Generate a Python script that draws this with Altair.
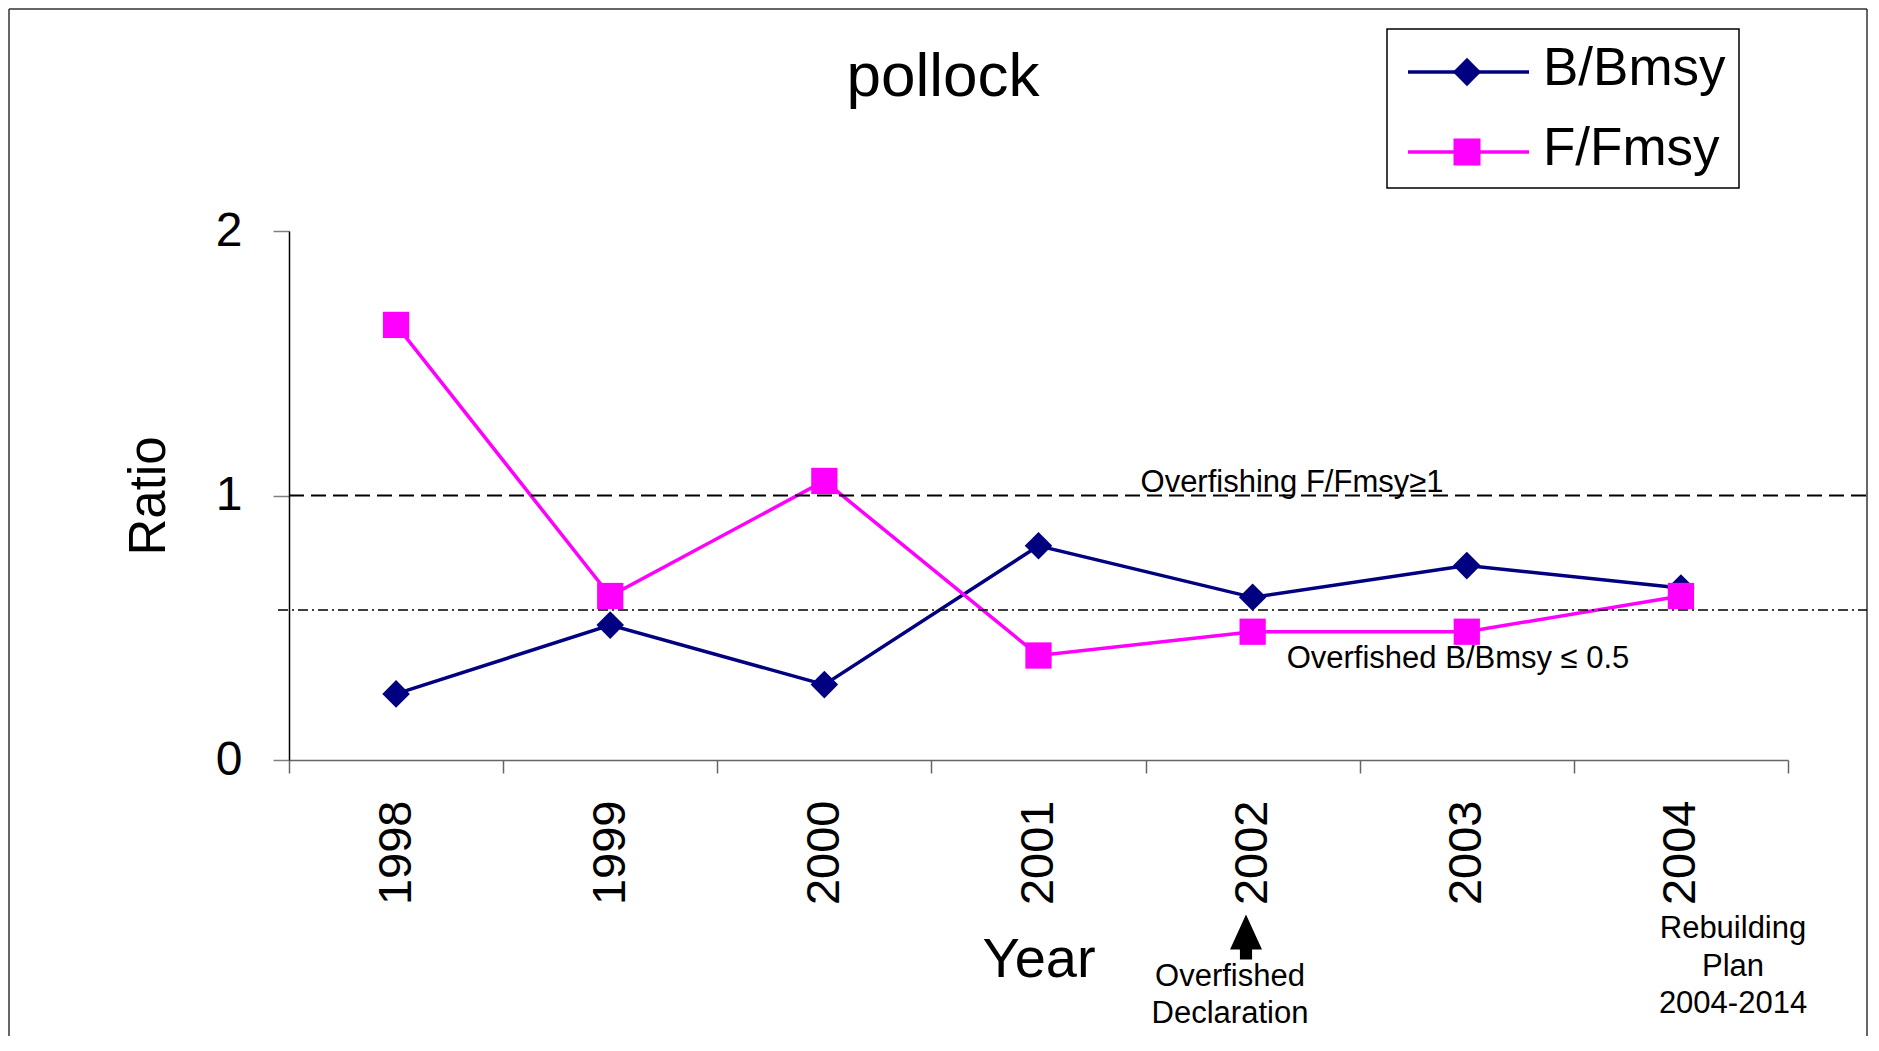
import altair as alt
import pandas as pd

# ---------------- data ----------------
years = ["1998", "1999", "2000", "2001", "2002", "2003", "2004"]
b_bmsy = [0.25, 0.51, 0.285, 0.81, 0.615, 0.735, 0.65]
f_fmsy = [1.645, 0.62, 1.055, 0.395, 0.485, 0.485, 0.62]
series_names = ["B/Bmsy", "F/Fmsy"]
series_colors = ["#000080", "#FF00FF"]
series_shapes = ["diamond", "square"]
series_sizes = [760, 690]
threshold_values = [1.0, 0.567]
threshold_labels = ["Overfishing F/Fmsy\u22651", "Overfished B/Bmsy \u2264 0.5"]
y_tick_values = [0.0, 1.0, 2.0]
chart_title = "pollock"
note_declaration = "Overfished\nDeclaration"
note_rebuilding = "Rebuilding\nPlan\n2004-2014"

FONT = "Liberation Sans"
W, H = 1499, 529

data = pd.DataFrame({
    "Year": years * 2,
    "Ratio": b_bmsy + f_fmsy,
    "Series": [series_names[0]] * len(years) + [series_names[1]] * len(years),
})
ref_df = pd.DataFrame({"Ratio": threshold_values, "Label": threshold_labels})
one = pd.DataFrame({"k": [0]})

x_enc = alt.X(
    "Year:N",
    scale=alt.Scale(type="band", domain=years, paddingInner=0, paddingOuter=0),
    axis=alt.Axis(
        title="Year", labelAngle=-90, tickBand="extent", grid=False,
        labelFont=FONT, labelFontSize=47, labelColor="black", labelPadding=27,
        labelAlign="right", labelBaseline="middle", labelOverlap=False,
        tickSize=13, tickColor="#666666", tickWidth=1.5,
        domainColor="#666666", domainWidth=1.5,
        titleFont=FONT, titleFontSize=56, titleFontWeight="normal",
        titleColor="black", titlePadding=28,
    ),
)
y_enc = alt.Y(
    "Ratio:Q",
    scale=alt.Scale(domain=[0, 2], nice=False),
    axis=alt.Axis(
        values=y_tick_values, grid=False, labelOverlap=False, labelFlush=False,
        labelExpr="format(datum.value, 'd')",
        labelFont=FONT, labelFontSize=48, labelColor="black", labelPadding=31,
        tickSize=16, tickColor="#808080", tickWidth=1.5,
        domainColor="black", domainWidth=1.5,
        title="Ratio", titleFont=FONT, titleFontSize=51, titleFontWeight="normal",
        titleColor="black", titlePadding=40,
    ),
)
color_enc = alt.Color("Series:N", scale=alt.Scale(domain=series_names, range=series_colors), legend=None)

layers = []

# outer frame (top, left, right)
frame_color = "#333333"
layers.append(alt.Chart(one).mark_rule(color=frame_color, strokeWidth=1.5).encode(
    x=alt.value(-280), x2=alt.value(1578), y=alt.value(-222)))
layers.append(alt.Chart(one).mark_rule(color=frame_color, strokeWidth=1.5).encode(
    x=alt.value(-280), y=alt.value(-222), y2=alt.value(805)))
layers.append(alt.Chart(one).mark_rule(color=frame_color, strokeWidth=1.5).encode(
    x=alt.value(1578), y=alt.value(-222), y2=alt.value(805)))

# data lines (carry the axes)
layers.append(alt.Chart(data).mark_line(strokeWidth=3.5).encode(x=x_enc, y=y_enc, color=color_enc))

# threshold lines
layers.append(alt.Chart(ref_df.iloc[[0]]).mark_rule(color="black", strokeWidth=2, strokeDash=[15, 7]).encode(
    y=alt.Y("Ratio:Q"), x=alt.value(0), x2=alt.value(1578)))
layers.append(alt.Chart(ref_df.iloc[[1]]).mark_rule(color="black", strokeWidth=1.5, strokeDash=[10, 4, 2, 4]).encode(
    y=alt.Y("Ratio:Q"), x=alt.value(-11), x2=alt.value(1578)))

# markers
for name, shape, size, col in zip(series_names, series_shapes, series_sizes, series_colors):
    layers.append(
        alt.Chart(data).transform_filter(alt.datum.Series == name)
        .mark_point(shape=shape, size=size, filled=True, opacity=1, color=col)
        .encode(x=alt.X("Year:N"), y=alt.Y("Ratio:Q"))
    )

# threshold labels
layers.append(alt.Chart(ref_df.iloc[[0]]).mark_text(
    font=FONT, fontSize=31, align="center", baseline="alphabetic", dy=-4, color="black").encode(
    y=alt.Y("Ratio:Q"), x=alt.value(1003), text="Label:N"))
layers.append(alt.Chart(ref_df.iloc[[1]]).mark_text(
    font=FONT, fontSize=31, align="center", baseline="alphabetic", dy=58, color="black").encode(
    y=alt.Y("Ratio:Q"), x=alt.value(1169), text="Label:N"))

# title
layers.append(alt.Chart(pd.DataFrame({"t": [chart_title]})).mark_text(
    font=FONT, fontSize=62, align="center", baseline="alphabetic", color="black").encode(
    x=alt.value(654), y=alt.value(-135), text="t:N"))

# notes under the x axis (y is the first line's position)
layers.append(alt.Chart(pd.DataFrame({"t": [note_declaration]})).mark_text(
    font=FONT, fontSize=31, align="center", baseline="middle", lineBreak="\n", lineHeight=37, color="black").encode(
    x=alt.value(941), y=alt.value(746), text="t:N"))
layers.append(alt.Chart(pd.DataFrame({"t": [note_rebuilding]})).mark_text(
    font=FONT, fontSize=31, align="center", baseline="middle", lineBreak="\n", lineHeight=37.5, color="black").encode(
    x=alt.value(1444), y=alt.value(698), text="t:N"))
arrow_path = "M0,-1L0.71,0.56L0.27,0.56L0.27,1L-0.27,1L-0.27,0.56L-0.71,0.56Z"
layers.append(alt.Chart(one).mark_point(shape=arrow_path, size=2025, filled=True, opacity=1, color="black").encode(
    x=alt.value(957), y=alt.value(706)))

# legend (drawn by hand)
layers.append(alt.Chart(one).mark_rect(fill="white", stroke="black", strokeWidth=1.5).encode(
    x=alt.value(1098), x2=alt.value(1450), y=alt.value(-202), y2=alt.value(-43)))
row_y = [-159, -79]
for i, (name, shape, size, col) in enumerate(zip(series_names, series_shapes, series_sizes, series_colors)):
    leg = pd.DataFrame({"Series": [name]})
    layers.append(alt.Chart(leg).mark_rule(color=col, strokeWidth=3.5).encode(
        x=alt.value(1119), x2=alt.value(1240), y=alt.value(row_y[i])))
    layers.append(alt.Chart(leg).mark_point(shape=shape, size=size + 40, filled=True, opacity=1, color=col).encode(
        x=alt.value(1178), y=alt.value(row_y[i])))
    layers.append(alt.Chart(leg).mark_text(font=FONT, fontSize=53, align="left", baseline="alphabetic", color="black").encode(
        x=alt.value(1254), y=alt.value(row_y[i] + 13), text="Series:N"))

chart = (
    alt.layer(*layers)
    .properties(width=W, height=H, padding=0, background="white")
    .configure_view(stroke=None)
    .configure_axis(labelOverlap=False)
)

chart.save("out.html", embed_options={"renderer": "svg", "actions": False})
